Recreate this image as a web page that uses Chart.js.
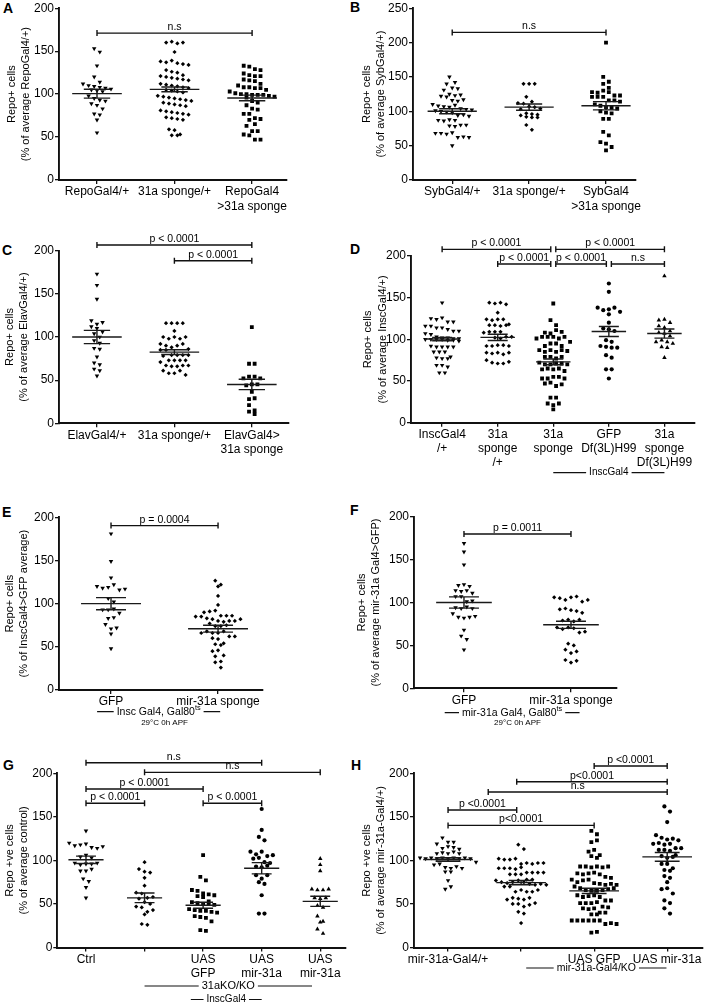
<!DOCTYPE html>
<html><head><meta charset="utf-8">
<script src="https://cdn.jsdelivr.net/npm/chart.js@4.4.1/dist/chart.umd.min.js"></script>
<style>
html,body{margin:0;padding:0;background:#fff;}
body{width:709px;height:1005px;position:relative;overflow:hidden;font-family:"Liberation Sans",Arial,Helvetica,sans-serif;}
.pn{position:absolute;}
.lt{position:absolute;font-weight:bold;font-size:14px;line-height:15px;color:#000;}
</style></head><body>
<div class="lt" style="left:3px;top:1px">A</div>
<div class="lt" style="left:350px;top:0px">B</div>
<div class="lt" style="left:2px;top:243px">C</div>
<div class="lt" style="left:350px;top:242px">D</div>
<div class="lt" style="left:2px;top:505px">E</div>
<div class="lt" style="left:350px;top:503px">F</div>
<div class="lt" style="left:3px;top:758px">G</div>
<div class="lt" style="left:351px;top:758px">H</div>
<script>
// ---------------- DATA ----------------
const yTicks200 = [0, 50, 100, 150, 200];
const yTicks250 = [0, 50, 100, 150, 200, 250];

// Panel A
const A_labels = [['RepoGal4/+'], ['31a sponge/+'], ['RepoGal4', '>31a sponge']];
const A_title = ['Repo+ cells', '(% of average RepoGal4/+)'];
const A_repoGal4 = [153,149,133,120,114,112,110,109,108,107,106,105,104,103,98,95,93,92,89,87,83,77,76,70,55];
const A_sponge = [160,161,159,160,149,138,137,139,136,135,134,128,126,125,122,121,120,119,118,117,116,112,111,110,109,108,107,105,104,103,102,98,97,96,95,94,93,92,90,89,88,87,86,81,80,79,78,77,76,73,72,71,70,59,58,53,52,52];
const A_repoSponge = [133,132,129,128,124,122,121,121,117,116,115,112,110,108,108,107,107,105,103,101,100,100,99,99,99,98,97,96,92,90,87,83,82,77,77,72,71,70,65,63,57,57,53,52,47,47];
const A_mean = [100.5, 105.5, 95.5];
const A_sem = [5.2, 2.8, 3.3];
const A_tests = [[1, 3, 'n.s']];

// Panel B
const B_labels = [['SybGal4/+'], ['31a sponge/+'], ['SybGal4', '>31a sponge']];
const B_title = ['Repo+ cells', '(% of average SybGal4/+)'];
const B_sybGal4 = [150,142,140,134,133,131,125,123,122,121,124,116,115,117,110,108,107,106,109,104,103,102,101,100,99,98,94,95,93,87,86,88,87,80,79,78,80,68,68,67,69,62,63,62,50];
const B_sponge = [140,140,140,121,114,112,111,107,106,104,103,97,96,95,94,92,91,91,80,73];
const B_sybSponge = [200,150,143,140,134,128,127,130,128,123,121,121,121,123,116,116,114,110,108,106,105,104,100,98,97,89,89,70,65,55,53,48,43];
const B_mean = [100, 106, 108];
const B_sem = [3.6, 4.5, 6];
const B_tests = [[1, 3, 'n.s']];

// Panel C
const C_labels = [['ElavGal4/+'], ['31a sponge/+'], ['ElavGal4>', '31a sponge']];
const C_title = ['Repo+ cells', '(% of average ElavGal4/+)'];
const C_elavGal4 = [173,160,144,119,115,117,112,110,106,104,100,96,93,87,86,77,70,68,63,61,55];
const C_sponge = [116,116,116,116,107,100,98,100,98,100,92,90,88,90,92,86,85,85,79,78,79,79,79,73,73,71,73,73,67,66,66,67,67,61,58,58,61,56];
const C_elavSponge = [111.5,69,69,52,54,54,52,44,45,45,36.5,28,29,21,15,13.5,10.8];
const C_mean = [100, 82.5, 45];
const C_sem = [7.7, 2.7, 6];
const C_tests = [[1, 3, 'p < 0.0001'], [2, 3, 'p < 0.0001']];

// Panel D
const D_labels = [['InscGal4', '/+'], ['31a', 'sponge', '/+'], ['31a', 'sponge'], ['GFP', 'Df(3L)H99'], ['31a', 'sponge', 'Df(3L)H99']];
const D_title = ['Repo+ cells', '(% of average InscGal4/+)'];
const D_inscGal4 = [144,125,124,126,121,121,116,116,114,114,112,110,110,107,106,103,102,102,101,101,100,100,100,100,99,99,98,92,91,91,91,91,85,85,85,79,78,77,77,69,69,67,60,60];
const D_sponge = [144,143,144,142,132,124,123,124,124,117,117,116,117,118,108,109,109,109,102,103,101,103,92,92,93,93,92,84,83,84,82,84,75,72,71,71,73];
const D_inscSponge = [143,123,117,108,107,111,109,101,103,103,103,101,103,97,92,95,95,92,87,85,87,85,87,86,79,79,77,79,72,70,70,71,71,70,64,65,64,65,62,53,53,55,55,53,47,48,44,46,30,30,23,21,23,16];
const D_gfpDf = [167,157,138,135,136,138,133,130,120,113,112,110,99,97,92,91,90,90,81,78,64,64,53];
const D_spongeDf = [176,123,124,120,116,114,110,108,107,104,97,99,97,95,91,90,78];
const D_mean = [100.4, 102.4, 73, 109.5, 107];
const D_sem = [2, 3.8, 3.5, 6, 5.5];
const D_tests = [[1, 3, 'p < 0.0001'], [3, 5, 'p < 0.0001'], [2, 3, 'p < 0.0001'], [3, 4, 'p < 0.0001'], [4, 5, 'n.s']];

// Panel E
const E_labels = [['GFP'], ['mir-31a sponge']];
const E_title = ['Repo+ cells', '(% of InscGal4>GFP average)'];
const E_gfp = [181,149,130,120,118,119,122,116,117,106,102,93,93,94,89,83,84,76,71,72,65,48];
const E_sponge = [126.6,120,122,109,98.5,90,91,92,85,86,85,86,86,83,82,80,79,80,80,82,77,74,74,75,66,68,66,66,68,62,60,59,62,54,53,52,45,46,40,39,32,33,26];
const E_mean = [100, 71];
const E_sem = [7, 4];
const E_tests = [[1, 2, 'p = 0.0004']];

// Panel F
const F_labels = [['GFP'], ['mir-31a sponge']];
const F_title = ['Repo+ cells', '(% of average mir-31a Gal4>GFP)'];
const F_gfp = [169,159,144,120,121,119,114,113,114,111,107,107,101,102,94,93,95,93,87,83,82,83,84,68,61,57,45];
const F_sponge = [106,105,103,106,107,101,103,92,93,91,90,88,79,80,78,80,71,69,71,70,65,66,52,50,45,41,43,33,30,32];
const F_mean = [100, 74];
const F_sem = [6.5, 4.2];
const F_tests = [[1, 2, 'p = 0.0011']];

// Panel G
const G_labels = [['Ctrl'], [''], ['UAS', 'GFP'], ['UAS', 'mir-31a'], ['UAS', 'mir-31a']];
const G_title = ['Repo +ve cells', '(% of average control)'];
const G_ctrl = [134,120,117,118,119,115,114,116,104,106,103,97,95,96,96,97,88,88,90,79,76,69,57];
const G_ko = [98,90,87,86,80,71,63,62,57,56,58,52,50,47,46,41,43,38,27,26];
const G_koGfp = [106,81,77,66,65,62,61,60,59,58,53,52,51,50,50,49,44,43,42,42,41,40,36,35,34,30,20,19];
const G_koMir = [159,135,127,123,110,107,110,105,102,103,106,98,97,93,92,94,83,79,83,75,73,60,39,39];
const G_koMir2 = [102,95,88,67,66,66,67,57,56,57,48,46,36,30,29,21,16];
const G_mean = [100.7, 57, 48.5, 91, 53];
const G_sem = [4.2, 5.5, 3.5, 6.5, 5.8];
const G_tests = [[1, 4, 'n.s'], [2, 5, 'n.s'], [1, 3, 'p < 0.0001'], [1, 2, 'p < 0.0001'], [3, 4, 'p < 0.0001']];

// Panel H
const H_labels = [['mir-31a-Gal4/+'], [''], ['UAS GFP'], ['UAS mir-31a']];
const H_title = ['Repo +ve cells', '(% of average mir-31a-Gal4/+)'];
const H_gal4 = [126,121,119,121,114,116,115,113,108,109,108,110,108,103,102,103,102,103,102,103,102,103,102,98,95,96,92,91,93,91,87,87,77,67,70];
const H_ko = [118,113,102,101,101,102,96,97,96,97,97,91,91,91,90,92,84,86,86,84,86,84,86,78,77,75,74,75,77,75,78,70,73,72,70,73,72,64,66,64,64,66,55,57,56,55,57,50,50,47,49,51,41,39,28];
const H_koGfp = [134,130,121,123,110,112,106,105,103,93,93,92,93,92,93,85,84,85,86,84,81,78,75,77,78,80,74,73,72,73,72,70,68,66,65,65,66,67,68,60,58,59,60,58,54,51,51,51,52,54,47,45,44,45,46,40,38,40,38,31,31,31,31,31,31,27,28,27,17,18];
const H_koMir = [162,156,144,129,126,124,125,123,119,120,118,119,112,114,112,111,114,105,103,104,106,96,96,89,91,88,82,80,75,67,68,62,54,51,45,39];
const H_mean = [101, 74.5, 65, 104];
const H_sem = [2, 2.5, 3, 5];
const H_tests = [[3, 4, 'p <0.0001'], [1.94, 4, 'p<0.0001'], [1.55, 4, 'n.s'], [1, 1.94, 'p <0.0001'], [1, 3, 'p<0.0001']];

// ---------------- STYLE / LAYOUT ----------------
const FONT = '"Liberation Sans", Arial, Helvetica, sans-serif';
Chart.defaults.font.family = FONT;
Chart.defaults.color = '#000';

const MARK = {
  triDown: {pointStyle: 'triangle', rotation: 180, radius: 2.6},
  diamond: {pointStyle: 'rectRot', rotation: 0, radius: 2.1},
  square:  {pointStyle: 'rect', rotation: 0, radius: 2.7},
  circle:  {pointStyle: 'circle', rotation: 0, radius: 2.1},
  triUp:   {pointStyle: 'triangle', rotation: 0, radius: 2.6}
};

const PANELS = [
  {box:{l:0,t:0,w:350,h:240}, area:{l:59,r:287,t:7,b:180}, xMin:0.51, xMax:3.45, yMax:200, yTicks:yTicks200,
   labels:A_labels, title:A_title, titleX:[12,25], groups:[A_repoGal4,A_sponge,A_repoSponge], marks:['triDown','diamond','square'],
   means:A_mean, sems:A_sem, tests:A_tests, levels:[171], mh:0.32, sh:0.17, notes:[]},
  {box:{l:352,t:0,w:357,h:240}, area:{l:413,r:636,t:7,b:180}, xMin:0.49, xMax:3.39, yMax:250, yTicks:yTicks250,
   labels:B_labels, title:B_title, titleX:[366.7,381.7], groups:[B_sybGal4,B_sponge,B_sybSponge], marks:['triDown','diamond','square'],
   means:B_mean, sems:B_sem, tests:B_tests, levels:[214.8], mh:0.32, sh:0.17, notes:[]},
  {box:{l:0,t:225,w:350,h:265}, area:{l:59,r:289,t:250.7,b:423.3}, xMin:0.51, xMax:3.48, yMax:200, yTicks:yTicks200,
   labels:C_labels, title:C_title, titleX:[10,25], groups:[C_elavGal4,C_sponge,C_elavSponge], marks:['triDown','diamond','square'],
   means:C_mean, sems:C_sem, tests:C_tests, levels:[206.6,188.4], mh:0.32, sh:0.17, notes:[]},
  {box:{l:352,t:225,w:357,h:265}, area:{l:411,r:695,t:256,b:422.7}, xMin:0.44, xMax:5.55, yMax:200, yTicks:yTicks200,
   labels:D_labels, title:D_title, titleX:[368.3,383.3], groups:[D_inscGal4,D_sponge,D_inscSponge,D_gfpDf,D_spongeDf],
   marks:['triDown','diamond','square','circle','triUp'],
   means:D_mean, sems:D_sem, tests:D_tests, levels:[208,208,190.4,190.4,190.4], mh:0.31, sh:0.18,
   notes:[{x1:3, x2:5, y:472.7, text:'InscGal4', size:10}]},
  {box:{l:0,t:490,w:350,h:250}, area:{l:59,r:263,t:517.3,b:690}, xMin:0.514, xMax:2.42, yMax:200, yTicks:yTicks200,
   labels:E_labels, title:E_title, titleX:[10,24], groups:[E_gfp,E_sponge], marks:['triDown','diamond'],
   means:E_mean, sems:E_sem, tests:E_tests, levels:[190.4], mh:0.28, sh:0.14,
   notes:[{x1:0.87, x2:2.02, y:711.7, text:'Insc Gal4, Gal80', sup:'ts', size:10.5}, {cx:1.5, y:722.3, text:'29°C 0h APF', size:8}]},
  {box:{l:352,t:490,w:357,h:250}, area:{l:414,r:617,t:516.7,b:688.3}, xMin:0.533, xMax:2.43, yMax:200, yTicks:yTicks200,
   labels:F_labels, title:F_title, titleX:[361.7,376.7], groups:[F_gfp,F_sponge], marks:['triDown','diamond'],
   means:F_mean, sems:F_sem, tests:F_tests, levels:[179.8], mh:0.26, sh:0.14,
   notes:[{x1:0.82, x2:2.08, y:712.7, text:'mir-31a Gal4, Gal80', sup:'ts', size:10.5}, {cx:1.5, y:722.7, text:'29°C 0h APF', size:8}]},
  {box:{l:0,t:745,w:350,h:260}, area:{l:57.3,r:346,t:773.3,b:947.5}, xMin:0.51, xMax:5.44, yMax:200, yTicks:yTicks200,
   labels:G_labels, title:G_title, titleX:[10,25], groups:[G_ctrl,G_ko,G_koGfp,G_koMir,G_koMir2],
   marks:['triDown','diamond','square','circle','triUp'],
   means:G_mean, sems:G_sem, tests:G_tests, levels:[212.1,201.1,182,165.6,165.6], mh:0.3, sh:0.17,
   notes:[{x1:2, x2:4.86, y:986, text:'31aKO/KO', size:11}, {x1:2.79, x2:4, y:999.5, text:'InscGal4', size:10}]},
  {box:{l:352,t:745,w:357,h:260}, area:{l:414,r:703,t:773.3,b:947.5}, xMin:0.534, xMax:4.49, yMax:200, yTicks:yTicks200,
   labels:H_labels, title:H_title, titleX:[366.7,382.3], groups:[H_gal4,H_ko,H_koGfp,H_koMir],
   marks:['triDown','diamond','square','circle'],
   means:H_mean, sems:H_sem, tests:H_tests, levels:[208.4,190.3,178.5,157.8,140.2], mh:0.34, sh:0.17,
   notes:[{x1:2.07, x2:3.99, y:968, text:'mir-31a-Gal4/KO', size:10.5}]}
];

// Prism-style column scatter: values that fall in the same row band are laid side by side
function swarm(vals, cx, bin, dx) {
  const idx = vals.map((v, i) => i).sort((a, b) => vals[b] - vals[a] || a - b);
  const rows = [];
  let cur = null;
  idx.forEach(i => {
    if (!cur || cur.start - vals[i] >= bin) { cur = {start: vals[i], items: []}; rows.push(cur); }
    cur.items.push(i);
  });
  const pts = [];
  rows.forEach(r => {
    r.items.sort((a, b) => a - b);
    const m = r.items.length;
    r.items.forEach((i, j) => pts.push({x: cx + (j - (m - 1) / 2) * dx, y: vals[i]}));
  });
  return pts;
}

function drawStats(chart, p) {
  const xs = chart.scales.x, ys = chart.scales.y, ctx = chart.ctx;
  ctx.save();
  ctx.strokeStyle = '#1a1a1a';
  ctx.lineWidth = 1.4;
  p.means.forEach((m, i) => {
    const c = i + 1, s = p.sems[i];
    const y = ys.getPixelForValue(m), yt = ys.getPixelForValue(m + s), yb = ys.getPixelForValue(m - s);
    const xl = xs.getPixelForValue(c - p.mh), xr = xs.getPixelForValue(c + p.mh);
    const sl = xs.getPixelForValue(c - p.sh), sr = xs.getPixelForValue(c + p.sh), xc = xs.getPixelForValue(c);
    ctx.beginPath();
    ctx.moveTo(xl, y); ctx.lineTo(xr, y);
    ctx.moveTo(xc, yt); ctx.lineTo(xc, yb);
    ctx.moveTo(sl, yt); ctx.lineTo(sr, yt);
    ctx.moveTo(sl, yb); ctx.lineTo(sr, yb);
    ctx.stroke();
  });
  ctx.restore();
}

function drawBrackets(chart, p) {
  const xs = chart.scales.x, ys = chart.scales.y, ctx = chart.ctx;
  ctx.save();
  ctx.strokeStyle = '#111'; ctx.lineWidth = 1.4; ctx.fillStyle = '#000';
  ctx.font = '10.5px ' + FONT; ctx.textAlign = 'center'; ctx.textBaseline = 'alphabetic';
  p.tests.forEach((t, k) => {
    const lv = p.levels[k];
    let x1 = xs.getPixelForValue(t[0]), x2 = xs.getPixelForValue(t[1]);
    p.tests.forEach((o, j) => {
      if (j !== k && Math.abs(p.levels[j] - lv) < 0.5) {
        if (o[1] === t[0]) x1 += 2.5;
        if (o[0] === t[1]) x2 -= 2.5;
      }
    });
    const y = ys.getPixelForValue(lv);
    ctx.beginPath();
    ctx.moveTo(x1, y); ctx.lineTo(x2, y);
    ctx.moveTo(x1, y - 3); ctx.lineTo(x1, y + 3);
    ctx.moveTo(x2, y - 3); ctx.lineTo(x2, y + 3);
    ctx.stroke();
    ctx.fillText(t[2], (x1 + x2) / 2, y - 3);
  });
  ctx.restore();
}

function drawNotes(chart, p) {
  const xs = chart.scales.x, ctx = chart.ctx;
  p.notes.forEach(n => {
    ctx.save();
    ctx.fillStyle = '#000'; ctx.strokeStyle = '#111'; ctx.lineWidth = 1.2;
    ctx.textBaseline = 'middle'; ctx.textAlign = 'left';
    const y = n.y - p.box.t;
    ctx.font = n.size + 'px ' + FONT;
    const w = ctx.measureText(n.text).width;
    let sw = 0;
    if (n.sup) { ctx.font = (n.size * 0.7) + 'px ' + FONT; sw = ctx.measureText(n.sup).width; }
    const total = w + sw;
    let cx;
    if (n.x1 != null) {
      const a = xs.getPixelForValue(n.x1), b = xs.getPixelForValue(n.x2);
      cx = (a + b) / 2;
      ctx.beginPath();
      ctx.moveTo(a, y); ctx.lineTo(cx - total / 2 - 3, y);
      ctx.moveTo(cx + total / 2 + 3, y); ctx.lineTo(b, y);
      ctx.stroke();
    } else {
      cx = xs.getPixelForValue(n.cx);
    }
    ctx.font = n.size + 'px ' + FONT;
    ctx.fillText(n.text, cx - total / 2, y);
    if (n.sup) {
      ctx.font = (n.size * 0.7) + 'px ' + FONT;
      ctx.fillText(n.sup, cx - total / 2 + w, y - n.size * 0.35);
    }
    ctx.restore();
  });
}

function makePanel(p) {
  const div = document.createElement('div');
  div.className = 'pn';
  div.style.left = p.box.l + 'px'; div.style.top = p.box.t + 'px';
  div.style.width = p.box.w + 'px'; div.style.height = p.box.h + 'px';
  const cv = document.createElement('canvas');
  cv.width = p.box.w; cv.height = p.box.h;
  cv.style.width = p.box.w + 'px'; cv.style.height = p.box.h + 'px';
  div.appendChild(cv);
  document.body.appendChild(div);

  const unitPx = (p.area.r - p.area.l) / (p.xMax - p.xMin);
  const vPerPx = p.yMax / (p.area.b - p.area.t);
  const bin = 5.6 * vPerPx;
  const dx = 5.6 / unitPx;

  const datasets = p.groups.map((vals, i) => {
    const mk = MARK[p.marks[i]];
    return {
      data: swarm(vals, i + 1, bin, dx),
      pointStyle: mk.pointStyle, pointRotation: mk.rotation, pointRadius: mk.radius,
      backgroundColor: '#000', borderColor: '#000', borderWidth: 0, showLine: false
    };
  });

  const yW = p.area.l - p.box.l;
  const xH = p.box.h - (p.area.b - p.box.t);
  const titleLH = 14.3;
  const tickFont = {size: 12, lineHeight: 1.18};

  new Chart(cv.getContext('2d'), {
    type: 'scatter',
    data: {datasets},
    options: {
      responsive: false, animation: false, devicePixelRatio: 1,
      layout: {padding: {left: 0, top: p.area.t - p.box.t, right: p.box.w - (p.area.r - p.box.l), bottom: 0}},
      plugins: {legend: {display: false}, tooltip: {enabled: false}},
      events: [],
      scales: {
        x: {
          type: 'linear', min: p.xMin, max: p.xMax,
          afterBuildTicks: s => { s.ticks = p.labels.map((_, i) => ({value: i + 1})); },
          afterFit: s => { s.height = xH; },
          grid: {display: true, drawOnChartArea: false, drawTicks: true, tickLength: 4, color: '#111', lineWidth: 1.3},
          border: {display: true, color: '#111', width: 1.9},
          ticks: {
            autoSkip: false, maxRotation: 0, minRotation: 0, padding: 1, color: '#000', font: tickFont,
            callback: v => p.labels[Math.round(v) - 1]
          }
        },
        y: {
          type: 'linear', min: 0, max: p.yMax,
          afterBuildTicks: s => { s.ticks = p.yTicks.map(v => ({value: v})); },
          afterFit: s => { s.width = yW; },
          grid: {display: true, drawOnChartArea: false, drawTicks: true, tickLength: 4, color: '#111', lineWidth: 1.3},
          border: {display: true, color: '#111', width: 1.9},
          ticks: {padding: 1, color: '#000', font: {size: 12}},
          title: {
            display: true, text: p.title, color: '#000',
            font: {size: 11, lineHeight: titleLH / 11},
            padding: {top: p.titleX[0] - p.box.l - titleLH / 2, bottom: 0}
          }
        }
      }
    },
    plugins: [{
      id: 'prismExtras',
      afterDatasetsDraw: chart => drawStats(chart, p),
      afterDraw: chart => { drawBrackets(chart, p); drawNotes(chart, p); }
    }]
  });
}

PANELS.forEach(makePanel);
</script>
</body></html>
